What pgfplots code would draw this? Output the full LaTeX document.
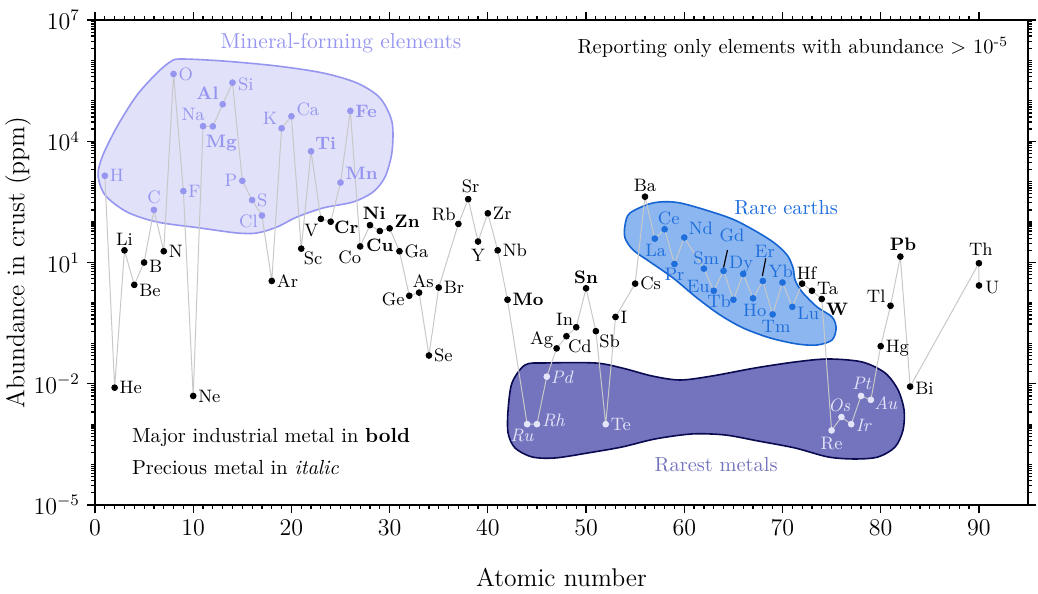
\documentclass[border=0pt]{standalone}
\usepackage{pgfplots}
\pgfplotsset{compat=1.18}
\usepackage{pgfplotstable}

\definecolor{colM}{RGB}{150,150,240}
\definecolor{fillM}{RGB}{225,225,250}
\definecolor{colR}{RGB}{30,110,220}
\definecolor{fillR}{RGB}{140,182,240}
\definecolor{edgeR}{RGB}{20,100,210}
\definecolor{colX}{RGB}{228,228,250}
\definecolor{fillX}{RGB}{115,115,190}
\definecolor{edgeX}{RGB}{10,10,80}
\definecolor{colK}{RGB}{0,0,0}
\definecolor{lineGray}{RGB}{200,200,200}

\newcommand\ticklabfont{\fontsize{11.5}{13}\selectfont}
\newcommand\axlabfont{\fontsize{12.8}{15}\selectfont}
\newcommand\elfont{\fontsize{9}{10.5}\selectfont}
\newcommand\annfont{\fontsize{10.2}{12}\selectfont}

% label placed relative to its point: align (l/r/c), x offset, baseline offset (in units of 8.5pt), text
\newdimen\labu \labu=8.5pt
\protected\def\lab#1#2#3#4{\smash{\makebox[0pt][#1]{\kern#2\labu\raisebox{#3\labu}{#4}\kern-#2\labu}}}
\protected\def\lR#1{\lab{l}{0.3}{-0.36}{#1}}
\protected\def\lL#1{\lab{r}{-0.3}{-0.36}{#1}}
\protected\def\lA#1{\lab{c}{0}{0.3}{#1}}

% mineral-forming elements
\pgfplotstableread{
Z ab lab
1 1400 \lR{H}
6 200 \lab{c}{0}{0.4}{C}
8 461000 \lR{O}
9 585 \lR{F}
11 23600 \lab{r}{0.1}{0.33}{Na}
12 23300 \lab{c}{0.5}{-1.24}{\textbf{Mg}}
13 82300 \lab{r}{-0.25}{0.25}{\textbf{Al}}
14 282000 \lab{l}{0.33}{-0.44}{Si}
15 1050 \lL{P}
16 350 \lR{S}
17 145 \lab{r}{-0.25}{-0.7}{Cl}
19 20900 \lab{r}{-0.25}{0.2}{K}
20 41500 \lab{l}{0.3}{0.05}{Ca}
22 5650 \lab{l}{0.25}{0.13}{\textbf{Ti}}
25 950 \lab{l}{0.3}{0.2}{\textbf{Mn}}
26 56300 \lR{\textbf{Fe}}
}\tblM

% rare earths
\pgfplotstableread{
Z ab lab
57 39 \lab{c}{0.06}{-1.03}{La}
58 66.5 \lab{c}{0.24}{0.3}{Ce}
59 9.2 \lab{c}{0}{-0.95}{Pr}
60 41.5 \lab{l}{0.27}{0.2}{Nd}
62 7.05 \lab{c}{0.14}{0.25}{Sm}
63 2.0 \lab{r}{-0.24}{-0.1}{Eu}
64 6.2 \lab{c}{0.5}{1.73}{Gd}
65 1.2 \lab{r}{-0.14}{-0.44}{Tb}
66 5.2 \lab{c}{-0.12}{0.3}{Dy}
67 1.3 \lab{c}{0.1}{-1.09}{Ho}
68 3.5 \lab{c}{0.12}{1.36}{Er}
69 0.52 \lab{c}{0.2}{-1.07}{Tm}
70 3.2 \lab{c}{-0.1}{0.3}{Yb}
71 0.8 \lab{l}{0.3}{-0.77}{Lu}
}\tblR

% rarest metals
\pgfplotstableread{
Z ab lab
44 0.001 \lab{c}{-0.3}{-0.99}{\textit{Ru}}
45 0.001 \lab{l}{0.3}{-0.16}{\textit{Rh}}
46 0.015 \lab{l}{0.24}{-0.4}{\textit{Pd}}
52 0.001 \lR{Te}
75 0.0007 \lab{c}{0}{-1.12}{Re}
76 0.0015 \lab{c}{-0.12}{0.35}{\textit{Os}}
77 0.001 \lab{l}{0.27}{-0.44}{\textit{Ir}}
78 0.005 \lab{c}{0.04}{0.38}{\textit{Pt}}
79 0.004 \lab{l}{0.2}{-0.54}{\textit{Au}}
}\tblX

% other elements (U is drawn at x = 90, as in the reference)
\pgfplotstableread{
Z ab lab
2 0.008 \lR{He}
3 20 \lA{Li}
4 2.8 \lab{l}{0.3}{-0.7}{Be}
5 10 \lab{l}{0.3}{-0.56}{B}
7 19 \lR{N}
10 0.005 \lR{Ne}
18 3.5 \lR{Ar}
21 22 \lab{l}{0.15}{-0.95}{Sc}
23 120 \lab{r}{-0.15}{-1.05}{V}
24 102 \lab{l}{0.2}{-0.7}{\textbf{Cr}}
27 25 \lab{r}{0.05}{-1.0}{Co}
28 84 \lab{c}{0.25}{0.33}{\textbf{Ni}}
29 60 \lab{c}{0}{-1.2}{\textbf{Cu}}
30 70 \lab{l}{0.3}{0.07}{\textbf{Zn}}
31 19 \lR{Ga}
32 1.5 \lab{r}{-0.28}{-0.56}{Ge}
33 1.8 \lab{c}{0.24}{0.29}{As}
34 0.05 \lR{Se}
35 2.4 \lR{Br}
37 90 \lab{r}{-0.16}{0.2}{Rb}
38 370 \lab{c}{0.14}{0.38}{Sr}
39 33 \lab{c}{0}{-1.15}{Y}
40 165 \lR{Zr}
41 20 \lR{Nb}
42 1.2 \lR{\textbf{Mo}}
47 0.075 \lab{r}{-0.2}{0.25}{Ag}
48 0.15 \lab{l}{0.1}{-0.93}{Cd}
49 0.25 \lab{r}{-0.18}{0.13}{In}
50 2.3 \lA{\textbf{Sn}}
51 0.2 \lab{l}{0.2}{-0.95}{Sb}
53 0.45 \lR{I}
55 3 \lR{Cs}
56 425 \lA{Ba}
72 3.0 \lab{c}{0.26}{0.27}{Hf}
73 2.0 \lab{l}{0.3}{-0.22}{Ta}
74 1.25 \lab{l}{0.25}{-0.97}{\textbf{W}}
80 0.085 \lR{Hg}
81 0.85 \lab{r}{-0.3}{0.17}{Tl}
82 14 \lab{c}{0.16}{0.38}{\textbf{Pb}}
83 0.0085 \lab{l}{0.3}{-0.45}{Bi}
90 9.6 \lab{c}{0.12}{0.45}{Th}
90.01 2.7 \lab{l}{0.38}{-0.5}{U}
}\tblK

% all elements, in order of atomic number, for the connecting line
\pgfplotstablevertcat{\tblAll}{\tblM}
\pgfplotstablevertcat{\tblAll}{\tblR}
\pgfplotstablevertcat{\tblAll}{\tblX}
\pgfplotstablevertcat{\tblAll}{\tblK}
\pgfplotstablesort[sort key=Z]{\tblSorted}{\tblAll}

% blob outlines: x, log10(y)
\pgfplotstableread{
x ly
8.66 6.035
13.03 5.986
18.53 5.862
23.22 5.689
26.68 5.441
29.02 5.070
30.24 4.476
30.24 3.734
29.53 3.116
28.31 2.745
26.27 2.497
23.22 2.349
20.57 2.126
18.53 1.879
16.50 1.730
14.46 1.730
10.69 1.854
6.31 2.003
3.26 2.250
1.02 2.670
0.31 3.165
0.81 3.660
2.34 4.402
4.28 5.144
6.31 5.689
7.64 5.961
}\blobM

\pgfplotstableread{
x ly
54.48 2.225
56.82 2.473
59.57 2.473
64.36 2.126
66.70 1.854
69.04 1.508
70.47 1.186
71.08 0.864
71.28 0.568
72.00 0.271
73.52 -0.100
75.05 -0.348
75.46 -0.620
75.05 -0.917
73.52 -1.041
71.49 -1.016
68.74 -0.867
65.99 -0.620
63.65 -0.298
61.30 0.122
58.86 0.617
56.52 1.013
54.79 1.310
53.97 1.607
53.97 1.928
}\blobR

\pgfplotstableread{
x ly
43.79 -1.535
45.82 -1.486
50.92 -1.486
53.67 -1.610
56.72 -1.808
59.57 -1.907
62.83 -1.808
67.21 -1.610
71.28 -1.461
74.64 -1.387
78.11 -1.461
80.45 -1.733
81.77 -2.154
82.38 -2.649
82.28 -3.143
81.47 -3.564
79.74 -3.811
77.39 -3.861
74.64 -3.811
71.28 -3.589
67.52 -3.416
64.15 -3.267
60.79 -3.242
57.03 -3.366
53.67 -3.564
50.20 -3.712
46.84 -3.836
44.50 -3.811
42.77 -3.589
42.06 -3.218
42.06 -2.649
42.46 -1.981
}\blobX

\pgfplotsset{
  elpts/.style={only marks, mark=*, mark size=1.45pt, draw=#1, fill=#1,
    point meta=explicit symbolic, nodes near coords,
    every node near coord/.append style={anchor=center, inner sep=0pt, outer sep=0pt, font=\elfont, text=#1}},
}

\begin{document}
\begin{tikzpicture}
\begin{axis}[
  scale only axis, width=466.5pt, height=242.5pt,
  xmin=0, xmax=95, ymin=1e-5, ymax=1e7, ymode=log,
  xtick={0,10,...,90}, minor x tick num=9,
  ytick={1e-5,1e-2,1e1,1e4,1e7},
  minor ytick={2e-5,3e-5,4e-5,5e-5,6e-5,7e-5,8e-5,9e-5,1e-4,
    2e-4,3e-4,4e-4,5e-4,6e-4,7e-4,8e-4,9e-4,1e-3,
    2e-3,3e-3,4e-3,5e-3,6e-3,7e-3,8e-3,9e-3,
    2e-2,3e-2,4e-2,5e-2,6e-2,7e-2,8e-2,9e-2,1e-1,
    2e-1,3e-1,4e-1,5e-1,6e-1,7e-1,8e-1,9e-1,1,
    2,3,4,5,6,7,8,9,
    20,30,40,50,60,70,80,90,100,
    200,300,400,500,600,700,800,900,1000,
    2000,3000,4000,5000,6000,7000,8000,9000,
    2e4,3e4,4e4,5e4,6e4,7e4,8e4,9e4,1e5,
    2e5,3e5,4e5,5e5,6e5,7e5,8e5,9e5,1e6,
    2e6,3e6,4e6,5e6,6e6,7e6,8e6,9e6},
  tick align=outside,
  major tick length=4pt, minor tick length=2pt,
  axis line style={line width=0.9pt},
  tick style={line width=0.6pt, black},
  tick label style={font=\ticklabfont},
  xlabel={Atomic number}, ylabel={Abundance in crust (ppm)},
  label style={font=\axlabfont},
  xlabel style={at={(axis description cs:0.5,-0.1485)}, anchor=center},
  ylabel style={at={(axis description cs:-0.0825,0.5)}, anchor=center},
]
% blobs
\addplot[fill=fillM, draw=colM, line width=0.8pt, smooth cycle] table[x=x, y expr={10^(\thisrow{ly})}] \blobM;
\addplot[fill=fillR, draw=edgeR, line width=0.8pt, smooth cycle] table[x=x, y expr={10^(\thisrow{ly})}] \blobR;
\addplot[fill=fillX, draw=edgeX, line width=0.8pt, smooth cycle] table[x=x, y expr={10^(\thisrow{ly})}] \blobX;
% connecting line
\addplot[color=lineGray, line width=0.5pt, no marks] table[x=Z, y=ab] \tblSorted;
% leader lines for Gd and Er
\addplot[black, line width=0.6pt, no marks] coordinates {(64.0,7.45) (64.4,20.4)};
\addplot[black, line width=0.6pt, no marks] coordinates {(67.95,4.64) (68.3,12.7)};
% points with labels, one plot per group
\addplot[elpts=colM] table[x=Z, y=ab, meta=lab] \tblM;
\addplot[elpts=colR] table[x=Z, y=ab, meta=lab] \tblR;
\addplot[elpts=colX] table[x=Z, y=ab, meta=lab] \tblX;
\addplot[elpts=colK] table[x=Z, y=ab, meta=lab] \tblK;

\node[text=colM, font=\fontsize{10.8}{13}\selectfont] at (axis cs:25.05,2.69e6) {Mineral-forming elements};
\node[text=colR, font=\annfont] at (axis cs:70.37,234) {Rare earths};
\node[text=fillX, font=\annfont] at (axis cs:63.24,9.8e-5) {Rarest metals};
\node[anchor=east, font=\annfont] at (axis cs:93.7,2.14e6) {Reporting only elements with abundance > 10\textsuperscript{-5}};
\node[anchor=west, font=\annfont] at (axis cs:3.05,4.8e-4) {Major industrial metal in \textbf{bold}};
\node[anchor=west, font=\annfont] at (axis cs:3.05,8.7e-5) {Precious metal in \textit{italic}};
\end{axis}
\pgfresetboundingbox
\path ([shift={(-47.5pt,-44pt)}]current axis.south west) rectangle ([shift={(5pt,10pt)}]current axis.north east);
\end{tikzpicture}
\end{document}
